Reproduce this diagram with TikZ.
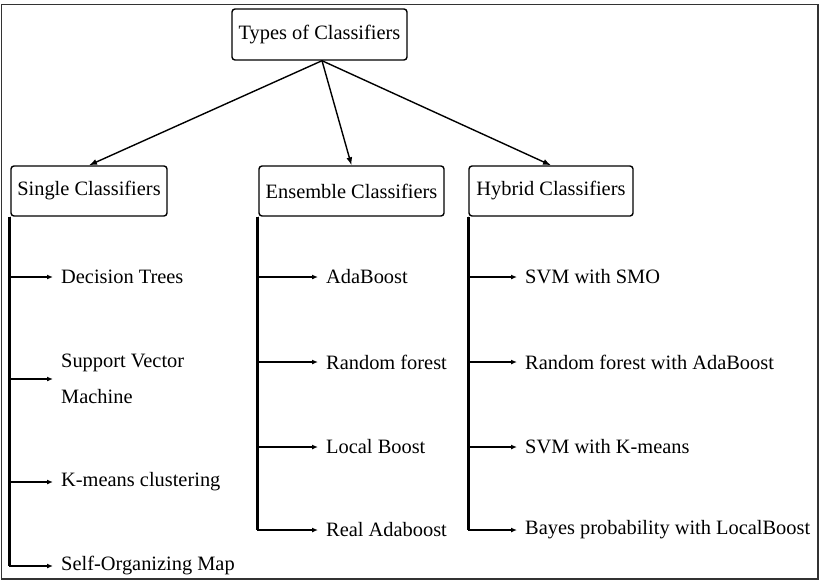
\documentclass[tikz,border=0pt]{standalone}
\usepackage{fontspec}
\setmainfont{Liberation Serif}
\usetikzlibrary{arrows.meta}
\begin{document}
\begin{tikzpicture}[x=1pt,y=-1pt,
  every node/.style={font=\fontsize{20.4}{36}\selectfont},
  classbox/.style={draw, line width=1.4pt, rounded corners=3pt, inner sep=0pt, minimum height=50pt},
  item/.style={anchor=west, inner xsep=8pt, inner ysep=0pt, align=left},
  trunk/.style={line width=2.7pt},
  branch/.style={line width=1.4pt, -{Latex[length=6pt,width=5pt]}},
  link/.style={line width=1.4pt, -{Latex[length=8pt,width=6pt]}}]
  \useasboundingbox (0,0) rectangle (821,581);
  % outer frame
  \draw[line width=1.6pt, black!80] (1.5,4.5) rectangle (818,579);

  % root and the three families
  \node[classbox, minimum width=175pt, minimum height=51pt] (top) at (319.5,34.5) {Types of Classifiers};
  \node[classbox, minimum width=156pt] (single) at (89,191) {Single Classifiers};
  \node[classbox, minimum width=185pt] (ens) at (351.5,191) {Ensemble Classifiers};
  \node[classbox, minimum width=164pt] (hyb) at (551,191) {Hybrid Classifiers};

  \draw[link] ([xshift=2.5pt]top.south) -- (single.north);
  \draw[link] ([xshift=2.5pt]top.south) -- (ens.north);
  \draw[link] ([xshift=2.5pt]top.south) -- (hyb.north);

  % single classifiers
  \node[item] (dt) at (53,277) {Decision Trees};
  \node[item] (svm) at (53,379) {Support Vector\\Machine};
  \node[item] (km) at (53,482) {K-means clustering};
  \node[item] (som) at (53,566) {Self-Organizing Map};
  \draw[trunk] ([xshift=-0.5pt]single.south west) -- ([xshift=-0.5pt]single.south west |- som.west);
  \foreach \n in {dt,svm,km,som}
    \draw[branch] ([xshift=-0.5pt]single.south west) |- (\n.west);

  % ensemble classifiers
  \node[item] (ada) at (318,277) {AdaBoost};
  \node[item] (rf) at (318,362) {Random forest};
  \node[item] (lb) at (318,447) {Local Boost};
  \node[item] (ra) at (318,530) {Real Adaboost};
  \draw[trunk] ([xshift=-0.5pt]ens.south west) -- ([xshift=-0.5pt]ens.south west |- ra.west);
  \foreach \n in {ada,rf,lb,ra}
    \draw[branch] ([xshift=-0.5pt]ens.south west) |- (\n.west);

  % hybrid classifiers
  \node[item] (smo) at (517,277) {SVM with SMO};
  \node[item] (rfa) at (517,362) {Random forest with AdaBoost};
  \node[item] (svk) at (517,447) {SVM with K-means};
  \node[item] (bay) at (517,530) {Bayes probability with LocalBoost};
  \draw[trunk] (hyb.south west) -- (hyb.south west |- bay.west);
  \foreach \n in {smo,rfa,svk,bay}
    \draw[branch] (hyb.south west) |- (\n.west);
\end{tikzpicture}
\end{document}
